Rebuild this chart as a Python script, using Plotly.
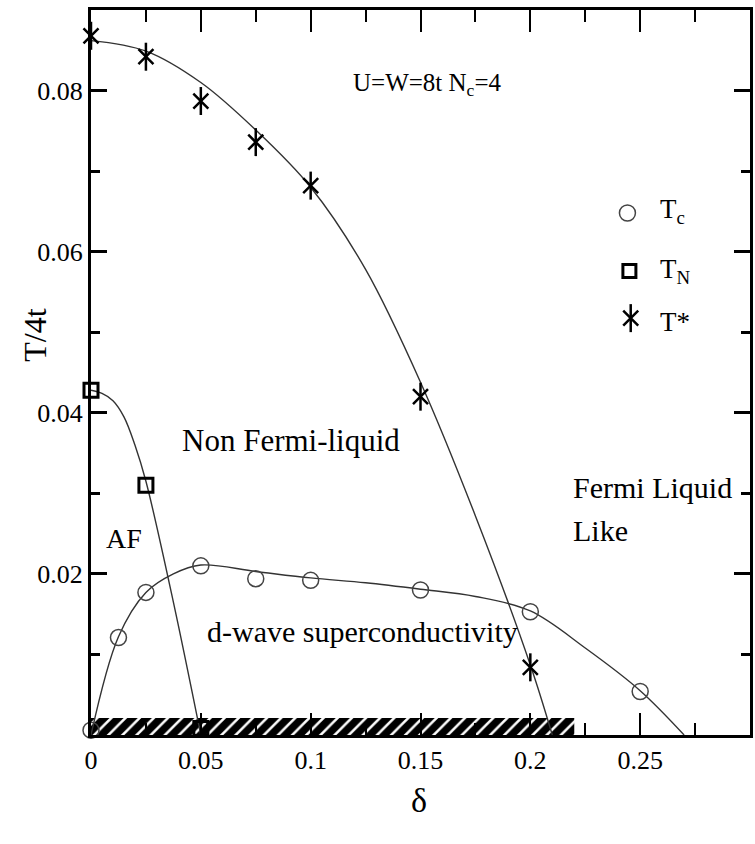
import plotly.graph_objects as go

# Phase diagram, T/4t versus doping delta (U=W=8t, Nc=4)
delta_tc = [0.0, 0.0125, 0.025, 0.05, 0.075, 0.1, 0.15, 0.2, 0.25]
tc = [0.0006, 0.0121, 0.0177, 0.0210, 0.0194, 0.0192, 0.0180, 0.0153, 0.0054]

delta_tn = [0.0, 0.025, 0.05]
tn = [0.0428, 0.0310, 0.0008]

delta_ts = [0.0, 0.025, 0.05, 0.075, 0.1, 0.15, 0.2]
ts = [0.0868, 0.0842, 0.0787, 0.0736, 0.0682, 0.0420, 0.0084]

# guide curves drawn through each set of points
guide_tc_delta = [0.0, 0.0125, 0.025, 0.0375, 0.05, 0.075, 0.1, 0.125, 0.15, 0.175, 0.2, 0.225, 0.25, 0.27]
guide_tc = [0.0, 0.0122, 0.0177, 0.0200, 0.0211, 0.0203, 0.0195, 0.0189, 0.0181, 0.0172, 0.0154, 0.0108, 0.0055, 0.0]

guide_tn_delta = [0.0, 0.005, 0.01, 0.015, 0.02, 0.025, 0.0375, 0.05]
guide_tn = [0.0428, 0.0424, 0.0415, 0.0395, 0.0360, 0.0315, 0.0165, 0.0]

guide_ts_delta = [0.0, 0.025, 0.05, 0.075, 0.1, 0.125, 0.15, 0.175, 0.2, 0.21]
guide_ts = [0.0862, 0.0849, 0.0810, 0.0751, 0.0680, 0.0578, 0.0438, 0.0272, 0.0087, 0.0]

# doping range of the superconducting ground state (hatched band)
sc_region = [0.0, 0.22]
sc_band = 0.0021

x_ticks = [0, 0.05, 0.1, 0.15, 0.2, 0.25]
x_ticktext = ["0", "0.05", "0.1", "0.15", "0.2", "0.25"]
x_minor = [0.025, 0.075, 0.125, 0.175, 0.225, 0.275]
y_ticks = [0.02, 0.04, 0.06, 0.08]
y_ticktext = ["0.02", "0.04", "0.06", "0.08"]
y_minor = [0.01, 0.03, 0.05, 0.07]

legend_labels = ["T<sub>c</sub>", "T<sub>N</sub>", "T*"]

FONT = "Liberation Serif, Times New Roman, serif"
LINE = "#333333"

fig = go.Figure()

fig.add_trace(go.Bar(
    x=[(sc_region[0] + sc_region[1]) / 2], y=[sc_band], base=0,
    width=[sc_region[1] - sc_region[0]],
    marker=dict(color="white", opacity=1, line=dict(width=0),
                pattern=dict(shape="/", fgcolor="black", bgcolor="white",
                             fgopacity=1, size=10, solidity=0.75)),
    showlegend=False, hoverinfo="skip"))

for gx, gy in [(guide_ts_delta, guide_ts), (guide_tn_delta, guide_tn), (guide_tc_delta, guide_tc)]:
    fig.add_trace(go.Scatter(x=gx, y=gy, mode="lines",
                             line=dict(color=LINE, width=1.4, shape="spline", smoothing=1.0),
                             showlegend=False, hoverinfo="skip", cliponaxis=True))

fig.add_trace(go.Scatter(x=delta_tc, y=tc, mode="markers", cliponaxis=False,
                         marker=dict(symbol="circle-open", size=16, color="#444444",
                                     line=dict(width=1.5)),
                         showlegend=False))
fig.add_trace(go.Scatter(x=delta_tn, y=tn, mode="markers", cliponaxis=False,
                         marker=dict(symbol="square-open", size=14, color="black",
                                     line=dict(width=3)),
                         showlegend=False))
for sym, sz in [("line-ns-open", 20), ("x-thin-open", 15)]:
    fig.add_trace(go.Scatter(x=delta_ts, y=ts, mode="markers", cliponaxis=False,
                             marker=dict(symbol=sym, size=sz, color="black",
                                         line=dict(width=2.5, color="black")),
                             showlegend=False))

# legend key drawn on an overlay frame in plot-fraction units
leg_x = [0.814, 0.817, 0.819]
leg_y = [0.720, 0.640, 0.575]
fig.add_trace(go.Scatter(x=[leg_x[0]], y=[leg_y[0]], xaxis="x2", yaxis="y2", mode="markers",
                         marker=dict(symbol="circle-open", size=16, color="#444444", line=dict(width=1.5)),
                         showlegend=False, hoverinfo="skip", cliponaxis=False))
fig.add_trace(go.Scatter(x=[leg_x[1]], y=[leg_y[1]], xaxis="x2", yaxis="y2", mode="markers",
                         marker=dict(symbol="square-open", size=13, color="black", line=dict(width=3)),
                         showlegend=False, hoverinfo="skip", cliponaxis=False))
for sym, sz in [("line-ns-open", 20), ("x-thin-open", 15)]:
    fig.add_trace(go.Scatter(x=[leg_x[2]], y=[leg_y[2]], xaxis="x2", yaxis="y2", mode="markers",
                             marker=dict(symbol=sym, size=sz, color="black", line=dict(width=2.5, color="black")),
                             showlegend=False, hoverinfo="skip", cliponaxis=False))

annotations = []
for lab, ly, dy in zip(legend_labels, leg_y, [0.003, 0.0, -0.006]):
    annotations.append(dict(text=lab, x=0.86, y=ly + dy, xref="paper", yref="paper",
                            xanchor="left", yanchor="middle", showarrow=False,
                            font=dict(family=FONT, size=27, color="black")))

texts = [
    ("U=W=8t N<sub>c</sub>=4", 0.153, 0.0808, 25, "center"),
    ("Non Fermi-liquid", 0.091, 0.0365, 31, "center"),
    ("AF", 0.015, 0.0244, 28, "center"),
    ("d-wave superconductivity", 0.1237, 0.0128, 30, "center"),
    ("Fermi Liquid", 0.2186, 0.0307, 30, "left"),
    ("Like", 0.2186, 0.0254, 30, "left"),
]
for t, x, y, s, anc in texts:
    annotations.append(dict(text=t, x=x, y=y, xref="x", yref="y", xanchor=anc,
                            yanchor="middle", showarrow=False,
                            font=dict(family=FONT, size=s, color="black")))

annotations.append(dict(text="T/4t", x=-0.085, y=0.552, xref="paper", yref="paper",
                        textangle=-90, showarrow=False, xanchor="center", yanchor="middle",
                        font=dict(family=FONT, size=32, color="black")))
annotations.append(dict(text="\u03b4", x=0.497, y=-0.09, xref="paper", yref="paper",
                        showarrow=False, xanchor="center", yanchor="middle",
                        font=dict(family=FONT, size=34, color="black")))

axis_common = dict(showgrid=False, zeroline=False, showline=True, linecolor="black",
                   linewidth=3, mirror="allticks", ticks="inside", tickcolor="black",
                   tickfont=dict(family=FONT, size=26, color="black"), tickmode="array")

fig.update_layout(
    width=755, height=844,
    margin=dict(l=91, r=2, t=10, b=109),
    paper_bgcolor="white", plot_bgcolor="white",
    showlegend=False,
    xaxis=dict(range=[0, 0.3], tickvals=x_ticks, ticktext=x_ticktext,
               ticklen=22, tickwidth=2,
               minor=dict(tickmode="array", tickvals=x_minor, ticklen=12, tickwidth=2,
                          ticks="inside", tickcolor="black"),
               **axis_common),
    yaxis=dict(range=[0, 0.09], tickvals=y_ticks, ticktext=y_ticktext,
               ticklen=16, tickwidth=3,
               minor=dict(tickmode="array", tickvals=y_minor, ticklen=9, tickwidth=3,
                          ticks="inside", tickcolor="black"),
               **axis_common),
    xaxis2=dict(overlaying="x", range=[0, 1], visible=False),
    yaxis2=dict(overlaying="y", range=[0, 1], visible=False),
    annotations=annotations,
)

fig.write_html("out.html")
